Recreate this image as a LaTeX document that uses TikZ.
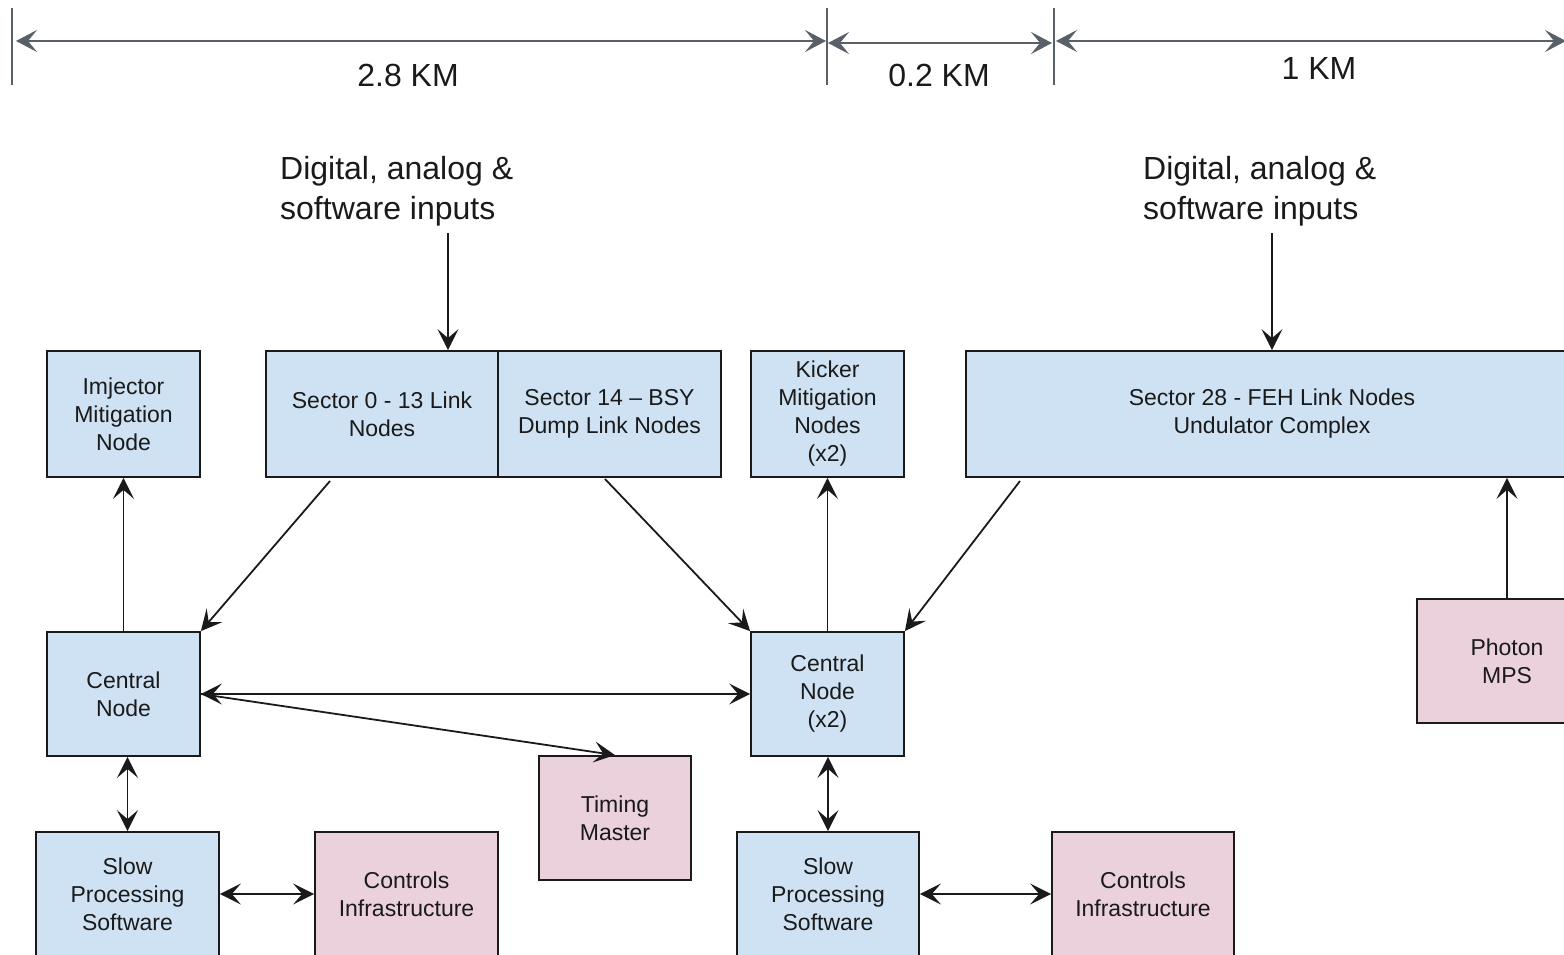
\documentclass[tikz,border=0pt]{standalone}
\usepackage{fontspec}
\setmainfont{Liberation Sans}
\usetikzlibrary{arrows.meta,calc}

\definecolor{nodeblue}{HTML}{CFE2F3}
\definecolor{nodepink}{HTML}{EAD1DC}
\definecolor{dimgray}{RGB}{90,96,104}
\definecolor{inkc}{HTML}{1A1A1A}

\tikzset{
  tip/.style={Stealth[length=21pt,width=21pt,inset=9pt]},
  box/.style={draw=inkc, line width=1.8pt, inner sep=0pt, align=center,
              text=inkc, font=\fontsize{23}{28}\selectfont},
  bluebox/.style={box, fill=nodeblue},
  pinkbox/.style={box, fill=nodepink},
  link/.style={draw=inkc, line width=1.8pt, -{Stealth[length=21pt,width=21pt,inset=9pt]}},
  duplex/.style={draw=inkc, line width=1.8pt,
               {Stealth[length=21pt,width=21pt,inset=9pt]}-{Stealth[length=21pt,width=21pt,inset=9pt]}},
  dimline/.style={draw=dimgray, line width=1.8pt,
               {Stealth[length=21pt,width=22pt,inset=9pt]}-{Stealth[length=21pt,width=22pt,inset=9pt]}},
  dimtick/.style={draw=dimgray, line width=1.4pt},
  dimlabel/.style={text=inkc, font=\fontsize{32}{38}\selectfont, inner sep=0pt},
  inputlabel/.style={text=inkc, font=\fontsize{32}{40}\selectfont, align=left,
               inner sep=0pt, anchor=west},
}

\begin{document}
\begin{tikzpicture}[x=1pt,y=-1pt]
\useasboundingbox (0,0) rectangle (1564,955);
\clip (0,0) rectangle (1564,955);

% ---- distance scale along the beam line ----
\coordinate (t0top) at (12,8);    \coordinate (t0bot) at (12,85);
\coordinate (t1top) at (827,8);   \coordinate (t1bot) at (827,85);
\coordinate (t2top) at (1054,8);  \coordinate (t2bot) at (1054,85);
\draw[dimtick] (t0top) -- (t0bot);
\draw[dimtick] (t1top) -- (t1bot);
\draw[dimtick] (t2top) -- (t2bot);

\coordinate (dA) at (16,41);   \coordinate (dB) at (826,41);
\coordinate (dC) at (828,43);  \coordinate (dD) at (1052,43);
\coordinate (dE) at (1056,41); \coordinate (dF) at (1566,41);
\draw[dimline] (dA) -- (dB);
\draw[dimline] (dC) -- (dD);
\draw[dimline] (dE) -- (dF);

\node[dimlabel] (km28) at (408,75) {2.8 KM};
\node[dimlabel] (km02) at (939,75) {0.2 KM};
\node[dimlabel] (km10) at (1319,68) {1 KM};

% ---- input labels ----
\node[inputlabel] (inL) at (280,191) {Digital, analog \&\\software inputs};
\node[inputlabel] (inR) at (1143,191) {Digital, analog \&\\software inputs};

% ---- upper row of nodes ----
\node[bluebox, minimum width=153pt, minimum height=126pt] (inj) at (123.5,414)
  {Imjector\\Mitigation\\Node};
\node[bluebox, minimum width=232pt, minimum height=126pt] (s013) at (382,414)
  {Sector 0 - 13 Link\\Nodes};
\node[bluebox, minimum width=223pt, minimum height=126pt] (s14) at (609.5,414)
  {Sector 14 -- BSY\\Dump Link Nodes};
\node[bluebox, minimum width=153pt, minimum height=126pt] (kick) at (827.5,414)
  {Kicker\\Mitigation\\Nodes\\(x2)};
\node[bluebox, minimum width=612pt, minimum height=126pt] (s28) at (1272,414)
  {Sector 28 - FEH Link Nodes\\Undulator Complex};

% ---- central nodes ----
\node[bluebox, minimum width=153pt, minimum height=124pt] (cnL) at (123.5,694)
  {Central\\Node};
\node[bluebox, minimum width=153pt, minimum height=124pt] (cnR) at (827.5,694)
  {Central\\Node\\(x2)};
\node[pinkbox, minimum width=152pt, minimum height=124pt] (tm) at (615,818)
  {Timing\\Master};
\node[pinkbox, minimum width=180pt, minimum height=124pt] (pmps) at (1507,661)
  {Photon\\MPS};

% ---- software and infrastructure ----
\node[bluebox, minimum width=183pt, minimum height=124pt] (spL) at (127.5,894)
  {Slow\\Processing\\Software};
\node[pinkbox, minimum width=183pt, minimum height=124pt] (ciL) at (406.5,894)
  {Controls\\Infrastructure};
\node[bluebox, minimum width=182pt, minimum height=124pt] (spR) at (828,894)
  {Slow\\Processing\\Software};
\node[pinkbox, minimum width=182pt, minimum height=124pt] (ciR) at (1143,894)
  {Controls\\Infrastructure};

% ---- connectors ----
\coordinate (inLfoot) at (448,233);
\coordinate (inRfoot) at (1272,233);
\draw[link] (inLfoot) -- (inLfoot |- s013.north);
\draw[link] (inRfoot) -- (inRfoot |- s28.north);

\coordinate (s013out) at (330,481);
\coordinate (s14out)  at (605,479);
\coordinate (s28out)  at (1020,481);
\draw[link] (s013out) -- (cnL.north east);
\draw[link] (s14out)  -- (cnR.north west);
\draw[link] (s28out)  -- (cnR.north east);

\draw[link] (cnL.north) -- (inj.south);
\draw[link] (cnR.north) -- (kick.south);
\draw[link] (pmps.north) -- (pmps.north |- s28.south);

\draw[duplex] (cnL.east) -- (cnR.west);
\draw[link] (cnL.east) -- (tm.north);

\draw[duplex] (spL.north |- cnL.south) -- (spL.north);
\draw[duplex] (spR.north |- cnR.south) -- (spR.north);
\draw[duplex] (spL.east) -- (ciL.west);
\draw[duplex] (spR.east) -- (ciR.west);
\end{tikzpicture}
\end{document}
